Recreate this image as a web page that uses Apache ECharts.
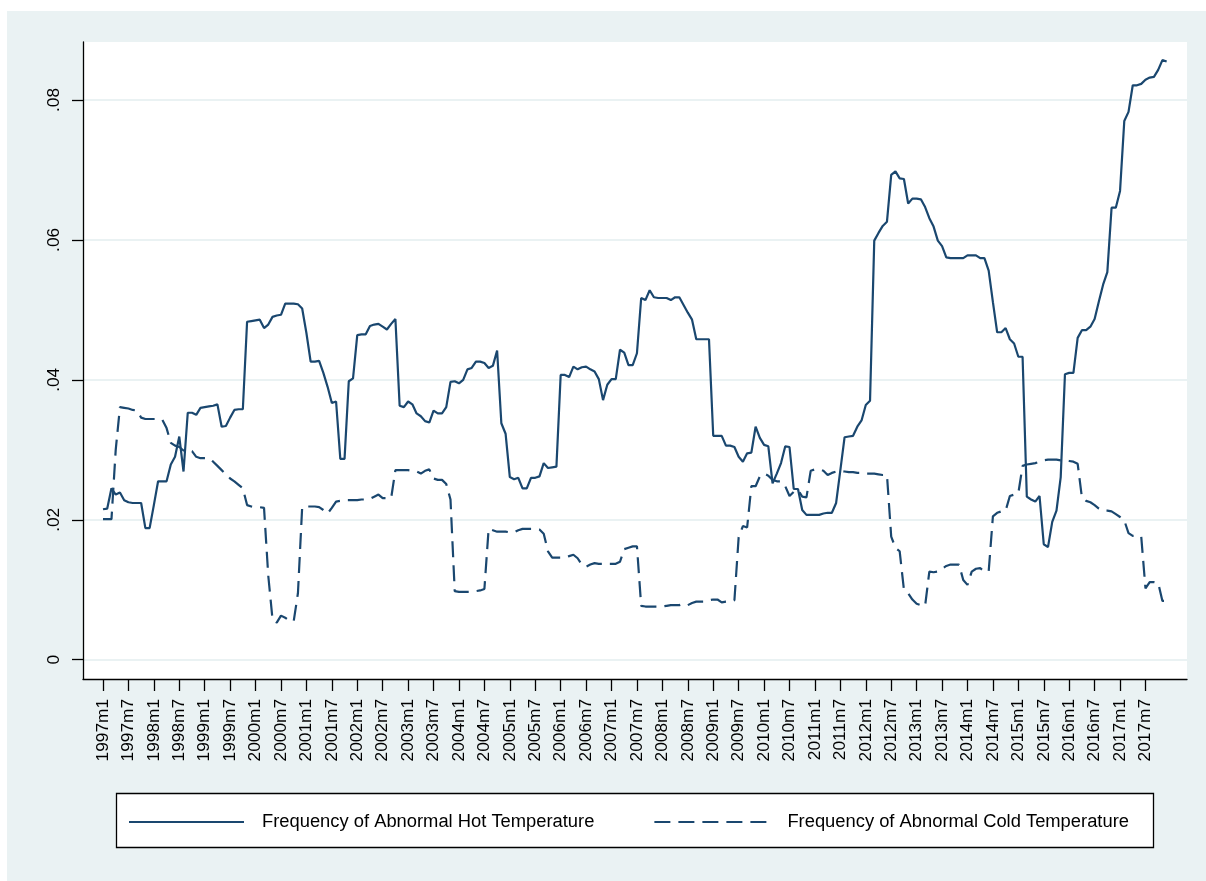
<!DOCTYPE html>
<html>
<head>
<meta charset="utf-8">
<script src="https://cdn.jsdelivr.net/npm/echarts@6/dist/echarts.min.js"></script>
<style>
  html, body { margin: 0; padding: 0; background: #fff; }
  #chart { width: 1206px; height: 881px; }
</style>
</head>
<body>
<div id="chart"></div>
<script>
// Monthly periods, 1997m1 .. 2017m12
const months = [];
for (let y = 1997; y <= 2017; y++) {
  for (let m = 1; m <= 12; m++) months.push(y + 'm' + m);
}

// Labelled ticks on the time axis (every six months)
const tickLabels = [
  '1997m1','1997m7','1998m1','1998m7','1999m1','1999m7','2000m1','2000m7',
  '2001m1','2001m7','2002m1','2002m7','2003m1','2003m7','2004m1','2004m7',
  '2005m1','2005m7','2006m1','2006m7','2007m1','2007m7','2008m1','2008m7',
  '2009m1','2009m7','2010m1','2010m7','2011m1','2011m7','2012m1','2012m7',
  '2013m1','2013m7','2014m1','2014m7','2015m1','2015m7','2016m1','2016m7',
  '2017m1','2017m7'
];

// Vertical axis ticks and their printed labels
const yTicks = [0, 0.02, 0.04, 0.06, 0.08];
const yTickLabels = ['0', '.02', '.04', '.06', '.08'];

// Frequency of abnormal hot temperature, one value per month
const hotFreq = [
  0.0215, 0.0216, 0.0245, 0.0236, 0.0239, 0.0228, 0.0225, 0.0224, 0.0224, 0.0224,
  0.0188, 0.0188, 0.0221, 0.0255, 0.0255, 0.0255, 0.0279, 0.0290, 0.0319, 0.0269,
  0.0353, 0.0353, 0.0350, 0.0360, 0.0361, 0.0362, 0.0363, 0.0365, 0.0333, 0.0334,
  0.0346, 0.0357, 0.0358, 0.0358, 0.0483, 0.0484, 0.0485, 0.0486, 0.0474, 0.0479,
  0.0490, 0.0492, 0.0493, 0.0509, 0.0509, 0.0509, 0.0508, 0.0502, 0.0467, 0.0426,
  0.0426, 0.0427, 0.0410, 0.0390, 0.0367, 0.0369, 0.0287, 0.0287, 0.0398, 0.0402,
  0.0464, 0.0465, 0.0465, 0.0477, 0.0479, 0.0480, 0.0476, 0.0472, 0.0480, 0.0487,
  0.0363, 0.0361, 0.0369, 0.0365, 0.0352, 0.0348, 0.0341, 0.0339, 0.0356, 0.0352,
  0.0352, 0.0361, 0.0397, 0.0398, 0.0395, 0.0400, 0.0415, 0.0417, 0.0426, 0.0426,
  0.0424, 0.0417, 0.0420, 0.0442, 0.0338, 0.0323, 0.0261, 0.0258, 0.0260, 0.0245,
  0.0245, 0.0260, 0.0260, 0.0262, 0.0281, 0.0274, 0.0275, 0.0276, 0.0407, 0.0407,
  0.0404, 0.0419, 0.0415, 0.0418, 0.0419, 0.0415, 0.0412, 0.0401, 0.0371, 0.0393,
  0.0401, 0.0401, 0.0443, 0.0439, 0.0421, 0.0421, 0.0438, 0.0517, 0.0514, 0.0528,
  0.0518, 0.0517, 0.0517, 0.0517, 0.0514, 0.0518, 0.0518, 0.0507, 0.0496, 0.0486,
  0.0458, 0.0458, 0.0458, 0.0458, 0.0320, 0.0320, 0.0320, 0.0306, 0.0306, 0.0304,
  0.0290, 0.0283, 0.0295, 0.0296, 0.0333, 0.0317, 0.0307, 0.0305, 0.0252, 0.0266,
  0.0281, 0.0305, 0.0304, 0.0244, 0.0244, 0.0214, 0.0207, 0.0207, 0.0207, 0.0207,
  0.0209, 0.0210, 0.0210, 0.0224, 0.0271, 0.0318, 0.0319, 0.0320, 0.0333, 0.0342,
  0.0364, 0.0370, 0.0599, 0.0610, 0.0620, 0.0626, 0.0693, 0.0698, 0.0688, 0.0687,
  0.0652, 0.0659, 0.0659, 0.0658, 0.0647, 0.0631, 0.0619, 0.0599, 0.0591, 0.0575,
  0.0574, 0.0574, 0.0574, 0.0574, 0.0578, 0.0578, 0.0578, 0.0574, 0.0574, 0.0556,
  0.0511, 0.0468, 0.0468, 0.0474, 0.0458, 0.0452, 0.0433, 0.0433, 0.0233, 0.0229,
  0.0226, 0.0234, 0.0165, 0.0161, 0.0197, 0.0213, 0.0261, 0.0408, 0.0410, 0.0410,
  0.0460, 0.0471, 0.0471, 0.0476, 0.0487, 0.0512, 0.0536, 0.0554, 0.0646, 0.0646,
  0.0670, 0.0770, 0.0783, 0.0821, 0.0821, 0.0823, 0.0829, 0.0832, 0.0833, 0.0843,
  0.0857, 0.0855
];

// Frequency of abnormal cold temperature, one value per month
const coldFreq = [
  0.0201, 0.0201, 0.0201, 0.0300, 0.0361, 0.0360, 0.0359, 0.0357, 0.0356, 0.0346,
  0.0344, 0.0344, 0.0344, 0.0344, 0.0343, 0.0331, 0.0310, 0.0306, 0.0304, 0.0299,
  0.0298, 0.0298, 0.0290, 0.0288, 0.0288, 0.0288, 0.0283, 0.0277, 0.0271, 0.0265,
  0.0259, 0.0255, 0.0250, 0.0245, 0.0221, 0.0219, 0.0218, 0.0218, 0.0217, 0.0120,
  0.0058, 0.0053, 0.0063, 0.0060, 0.0056, 0.0055, 0.0095, 0.0218, 0.0219, 0.0219,
  0.0219, 0.0218, 0.0214, 0.0209, 0.0217, 0.0226, 0.0227, 0.0228, 0.0228, 0.0228,
  0.0228, 0.0229, 0.0229, 0.0230, 0.0233, 0.0236, 0.0231, 0.0231, 0.0231, 0.0271,
  0.0271, 0.0271, 0.0271, 0.0270, 0.0269, 0.0266, 0.0270, 0.0272, 0.0259, 0.0257,
  0.0257, 0.0251, 0.0229, 0.0098, 0.0097, 0.0097, 0.0097, 0.0097, 0.0098, 0.0099,
  0.0101, 0.0187, 0.0185, 0.0183, 0.0183, 0.0183, 0.0182, 0.0182, 0.0185, 0.0187,
  0.0187, 0.0187, 0.0187, 0.0186, 0.0180, 0.0155, 0.0146, 0.0146, 0.0146, 0.0146,
  0.0148, 0.0150, 0.0145, 0.0136, 0.0133, 0.0136, 0.0138, 0.0137, 0.0137, 0.0137,
  0.0137, 0.0137, 0.0140, 0.0158, 0.0160, 0.0162, 0.0162, 0.0077, 0.0076, 0.0076,
  0.0076, 0.0076, 0.0076, 0.0077, 0.0078, 0.0078, 0.0078, 0.0080, 0.0078, 0.0081,
  0.0083, 0.0083, 0.0083, 0.0085, 0.0086, 0.0086, 0.0082, 0.0083, 0.0083, 0.0085,
  0.0175, 0.0191, 0.0189, 0.0248, 0.0248, 0.0262, 0.0266, 0.0263, 0.0257, 0.0255,
  0.0255, 0.0248, 0.0234, 0.0240, 0.0243, 0.0233, 0.0232, 0.0270, 0.0272, 0.0272,
  0.0270, 0.0264, 0.0267, 0.0269, 0.0270, 0.0269, 0.0268, 0.0268, 0.0267, 0.0267,
  0.0266, 0.0266, 0.0266, 0.0265, 0.0264, 0.0264, 0.0176, 0.0160, 0.0155, 0.0100,
  0.0095, 0.0086, 0.0080, 0.0078, 0.0077, 0.0126, 0.0125, 0.0126, 0.0130, 0.0134,
  0.0136, 0.0136, 0.0136, 0.0114, 0.0107, 0.0126, 0.0130, 0.0131, 0.0126, 0.0126,
  0.0205, 0.0210, 0.0212, 0.0213, 0.0234, 0.0236, 0.0238, 0.0277, 0.0279, 0.0280,
  0.0281, 0.0283, 0.0285, 0.0286, 0.0286, 0.0286, 0.0285, 0.0285, 0.0284, 0.0283,
  0.0280, 0.0232, 0.0227, 0.0225, 0.0221, 0.0216, 0.0213, 0.0213, 0.0212, 0.0208,
  0.0204, 0.0199, 0.0181, 0.0177, 0.0177, 0.0176, 0.0102, 0.0111, 0.0111, 0.0110,
  0.0084, 0.0084
];

const seriesNames = [
  'Frequency of Abnormal Hot Temperature',
  'Frequency of Abnormal Cold Temperature'
];

const FONT = "'Liberation Sans', Arial, Helvetica, sans-serif";
const NAVY = '#1A476F';
const tickIdx = tickLabels.map(l => months.indexOf(l));
const toPairs = arr => arr.map((v, i) => [i, v]);

const chart = echarts.init(document.getElementById('chart'), null, { renderer: 'canvas' });

chart.setOption({
  animation: false,
  backgroundColor: '#EAF2F3',
  textStyle: { fontFamily: FONT },
  graphic: [
    { type: 'rect', silent: true, shape: { x: 0, y: 0, width: 1206, height: 11 }, style: { fill: '#fff' } },
    { type: 'rect', silent: true, shape: { x: 0, y: 0, width: 7, height: 881 }, style: { fill: '#fff' } },
    { type: 'rect', silent: true, z: 1,
      shape: { x: 116.5, y: 793.5, width: 1037, height: 54 },
      style: { fill: '#fff', stroke: '#000', lineWidth: 1.3 } }
  ],
  grid: {
    left: 83, right: 19, top: 42, bottom: 202,
    show: true, backgroundColor: '#fff', borderWidth: 0,
    containLabel: false, outerBoundsMode: 'none'
  },
  legend: {
    data: seriesNames,
    left: 128, top: 812,
    padding: 0,
    itemWidth: 115, itemHeight: 20, itemGap: 59,
    z: 5,
    // line samples only, no marker in the middle
    itemStyle: { opacity: 0, color: 'rgba(0,0,0,0)', borderColor: 'rgba(0,0,0,0)', borderWidth: 0 },
    textStyle: {
      fontFamily: FONT, fontSize: 18.35, color: '#000',
      padding: [0, 0, 0, 13], lineHeight: 20
    }
  },
  xAxis: {
    type: 'value',
    min: -4.72, max: 255.8,
    axisLine: { show: true, onZero: false, lineStyle: { color: '#000', width: 1.3 } },
    axisTick: { show: true, customValues: tickIdx, length: 12, lineStyle: { color: '#000', width: 1.3 } },
    axisLabel: {
      customValues: tickIdx,
      formatter: v => months[v],
      rotate: 90, margin: 20,
      fontFamily: FONT, fontSize: 17.3, color: '#000'
    },
    splitLine: { show: false }
  },
  yAxis: {
    type: 'value',
    min: -0.002757, max: 0.088286,
    axisLine: { show: true, onZero: false, lineStyle: { color: '#000', width: 1.3 } },
    axisTick: { show: true, customValues: yTicks, length: 11, lineStyle: { color: '#000', width: 1.3 } },
    axisLabel: {
      customValues: yTicks,
      formatter: v => yTickLabels[yTicks.indexOf(v)],
      rotate: 90, margin: 20,
      fontFamily: FONT, fontSize: 17.3, color: '#000'
    },
    splitLine: { show: true, lineStyle: { color: '#EAF2F3', width: 2 } }
  },
  series: [
    {
      name: seriesNames[0],
      type: 'line',
      data: toPairs(hotFreq),
      symbol: 'none', showSymbol: false,
      lineStyle: { color: NAVY, width: 2.2, type: 'solid' },
      itemStyle: { color: NAVY },
      z: 3
    },
    {
      name: seriesNames[1],
      type: 'line',
      data: toPairs(coldFreq),
      symbol: 'none', showSymbol: false,
      lineStyle: { color: NAVY, width: 2.2, type: [16, 8] },
      itemStyle: { color: NAVY },
      z: 3
    }
  ]
});
</script>
</body>
</html>
